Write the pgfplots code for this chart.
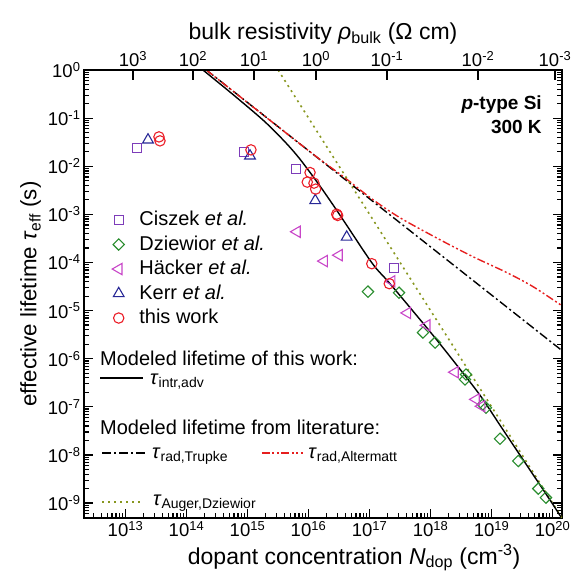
\documentclass[border=0pt]{standalone}
\usepackage{pgfplots}
\pgfplotsset{compat=1.18}
\usepackage{fontspec}
\setmainfont{Liberation Sans}
\definecolor{cisz}{RGB}{125,60,185}
\definecolor{dziew}{RGB}{40,140,45}
\definecolor{haeck}{RGB}{200,70,200}
\definecolor{kerrc}{RGB}{40,40,150}
\definecolor{thisw}{RGB}{235,30,40}
\definecolor{augerc}{RGB}{135,150,30}
\definecolor{alterc}{RGB}{230,30,30}
\newcommand{\logticklabel}{\pgfmathparse{round(\tick/ln(10))}\pgfmathtruncatemacro\E{\pgfmathresult}10\textsuperscript{\E}}
\newcommand{\leg}{\fontsize{20}{24}\selectfont}
\begin{document}
\begin{tikzpicture}
\path[use as bounding box] (-84pt,-63pt) rectangle (488pt,518pt);
\begin{axis}[
  at={(0pt,0pt)}, anchor=south west,
  scale only axis, width=478pt, height=448pt,
  xmode=log, ymode=log,
  xmin=2.09e12, xmax=1.432e20, ymin=4.9e-10, ymax=1,
  axis line style={line width=1.6pt},
  tick align=inside,
  xtick pos=left, ytick pos=both,
  major tick length=9pt, minor tick length=5pt,
  every tick/.style={black, line width=1.2pt},
  xticklabel={\logticklabel}, yticklabel={\logticklabel},
  tick label style={font=\fontsize{18.5}{20}\selectfont},
  label style={font=\fontsize{23}{26}\selectfont},
  xlabel={dopant concentration \textit{N}\textsubscript{dop} (cm\textsuperscript{-3})},
  ylabel={effective lifetime \textit{τ}\textsubscript{eff} (s)},
  xlabel style={at={(ticklabel cs:0.565)}, anchor=near ticklabel, font=\fontsize{23}{26}\selectfont},
  ylabel style={font=\fontsize{22.3}{25}\selectfont},
  legend style={at={(rel axis cs:0.0586,0.689)}, anchor=north west, draw=none, fill=none, inner sep=0pt, row sep=3.5pt, font=\leg, nodes={text height=14pt, text depth=3pt, inner ysep=2pt, inner xsep=3pt}},
  legend cell align=left,
  legend image code/.code={\draw[mark repeat=2,mark phase=2,#1] plot coordinates {(0pt,0pt)(10pt,0pt)(20pt,0pt)};},
  /tikz/every odd column/.append style={column sep=12pt},
]
% curves
\addplot[forget plot, black, line width=1.4pt, dash pattern=on 9pt off 3pt on 2pt off 3pt] coordinates {(2.114e14,1) (1.432e20,1.476e-6)};
\addplot[forget plot, alterc, line width=1.4pt, smooth, dash pattern=on 8pt off 2.5pt on 2pt off 2.5pt on 2pt off 2.5pt] coordinates {
(2.114e14,1) (1e16,0.02113) (3.68e16,6.17e-3) (1.099e17,2.09e-3) (3.16e17,8.51e-4) (1.432e18,2.97e-4) (4.98e18,1.318e-4) (1.795e19,6.14e-5) (4.79e19,3.15e-5) (1.432e20,1.26e-5)};
\addplot[forget plot, augerc, line width=1.6pt, dash pattern=on 2pt off 4pt] coordinates {(3.178e15,1) (1.432e20,4.926e-10)};
\addplot[forget plot, black, line width=1.4pt, smooth] coordinates {
(1.862e14,1) (6.01e14,0.2972) (1.862e15,0.0875) (4.12e15,0.03206) (7.26e15,0.01403) (1.545e16,3.864e-3) (3.28e16,9.66e-4) (1.099e17,9.77e-5) (2.168e17,3.63e-5) (9.82e17,3.66e-6) (2.716e18,7.29e-7) (6.47e18,1.75e-7) (1.377e19,4.17e-8) (2.93e19,9.95e-9) (6.24e19,2.38e-9) (1e20,9.66e-10) (1.377e20,5.15e-10)};
% data
\addplot[only marks, cisz, mark=square, mark size=4.5pt, line width=1.1pt] coordinates {
(1.55e13,2.41e-2) (8.77e14,1.99e-2) (6.24e15,8.83e-3) (2.52e17,7.69e-5)};
\addlegendentry{Ciszek \textit{et al.}}
\addplot[only marks, dziew, mark=square, mark options={rotate=45}, mark size=4pt, line width=1.1pt] coordinates {
(9.45e16,2.48e-5) (3.05e17,2.36e-5) (7.53e17,3.50e-6) (1.19e18,2.17e-6) (3.82e18,4.70e-7) (3.68e18,3.70e-7) (7.18e18,1.12e-7) (8.13e18,9.57e-8) (1.38e19,2.18e-8) (2.75e19,7.48e-9) (5.85e19,2.0e-9) (7.82e19,1.30e-9)};
\addlegendentry{Dziewior \textit{et al.}}
\addplot[only marks, haeck, mark=triangle, mark options={rotate=90}, mark size=6.5pt, line width=1.1pt] coordinates {
(6.47e15,4.35e-4) (1.80e16,1.07e-4) (3.16e16,1.42e-4) (2.31e17,4.06e-5) (4.17e17,8.95e-6) (8.67e17,4.95e-6) (2.52e18,5.25e-7) (5.57e18,1.43e-7) (6.9e18,1.03e-7)};
\addlegendentry{Häcker \textit{et al.}}
\addplot[only marks, kerrc, mark=triangle, mark size=6.2pt, line width=1.1pt] coordinates {
(2.34e13,3.53e-2) (1.10e15,1.64e-2) (1.29e16,1.94e-3) (4.23e16,3.38e-4)};
\addlegendentry{Kerr \textit{et al.}}
\addplot[only marks, thisw, mark=o, mark size=5.2pt, line width=1.1pt] coordinates {
(3.54e13,4.07e-2) (3.68e13,3.37e-2) (1.14e15,2.19e-2) (1.06e16,7.40e-3) (9.55e15,4.68e-3) (1.23e16,4.46e-3) (1.31e16,3.35e-3) (2.90e16,1.01e-3) (3.01e16,9.48e-4) (1.09e17,9.44e-5) (2.11e17,3.63e-5)};
\addlegendentry{this work}
% texts
\node[anchor=base east, font=\fontsize{19}{22}\selectfont\bfseries, inner sep=0pt] at (rel axis cs:0.958,0.911) {\textit{p}-type Si};
\node[anchor=base east, font=\fontsize{19}{22}\selectfont\bfseries, inner sep=0pt] at (rel axis cs:0.958,0.859) {300 K};
\node[anchor=west, font=\leg, inner sep=0pt] at (rel axis cs:0.0335,0.357) {Modeled lifetime of this work:};
\draw[line width=1.4pt] (rel axis cs:0.0335,0.3125) -- (rel axis cs:0.1234,0.3125);
\node[anchor=base west, font=\leg, inner sep=0pt] at (rel axis cs:0.138,0.299) {\textit{τ}\textsubscript{intr,adv}};
\node[anchor=west, font=\leg, inner sep=0pt] at (rel axis cs:0.0335,0.203) {Modeled lifetime from literature:};
\draw[line width=1.4pt, dash pattern=on 9pt off 3pt on 2pt off 3pt] (rel axis cs:0.0377,0.145) -- (rel axis cs:0.1276,0.145);
\node[anchor=base west, font=\leg, inner sep=0pt] at (rel axis cs:0.142,0.132) {\textit{τ}\textsubscript{rad,Trupke}};
\draw[alterc, line width=1.4pt, dash pattern=on 8pt off 2.5pt on 2pt off 2.5pt on 2pt off 2.5pt] (rel axis cs:0.372,0.145) -- (rel axis cs:0.458,0.145);
\node[anchor=base west, font=\leg, inner sep=0pt] at (rel axis cs:0.469,0.132) {\textit{τ}\textsubscript{rad,Altermatt}};
\draw[augerc, line width=1.6pt, dash pattern=on 2pt off 4pt] (rel axis cs:0.0377,0.0357) -- (rel axis cs:0.1234,0.0357);
\node[anchor=base west, font=\leg, inner sep=0pt] at (rel axis cs:0.144,0.029) {\textit{τ}\textsubscript{Auger,Dziewior}};
\end{axis}
\begin{axis}[
  at={(0pt,0pt)}, anchor=south west,
  scale only axis, width=478pt, height=448pt,
  xmode=log, xmin=2.09e12, xmax=1.432e20, ymin=0, ymax=1,
  axis x line*=top, hide y axis,
  axis line style={line width=1.6pt},
  tick align=inside, major tick length=10pt, xminorticks=false,
  every tick/.style={black, line width=1.2pt},
  xtick={1.327e13,1.279e14,1.279e15,1.327e16,1.936e17,6.01e18,1.099e20},
  xticklabels={10\textsuperscript{3},10\textsuperscript{2},10\textsuperscript{1},10\textsuperscript{0},10\textsuperscript{-1},10\textsuperscript{-2},10\textsuperscript{-3}},
  tick label style={font=\fontsize{18.5}{20}\selectfont},
  label style={font=\fontsize{23}{26}\selectfont},
  xlabel={bulk resistivity \textit{ρ}\textsubscript{bulk} (Ω cm)},
]
\end{axis}
\end{tikzpicture}
\end{document}
